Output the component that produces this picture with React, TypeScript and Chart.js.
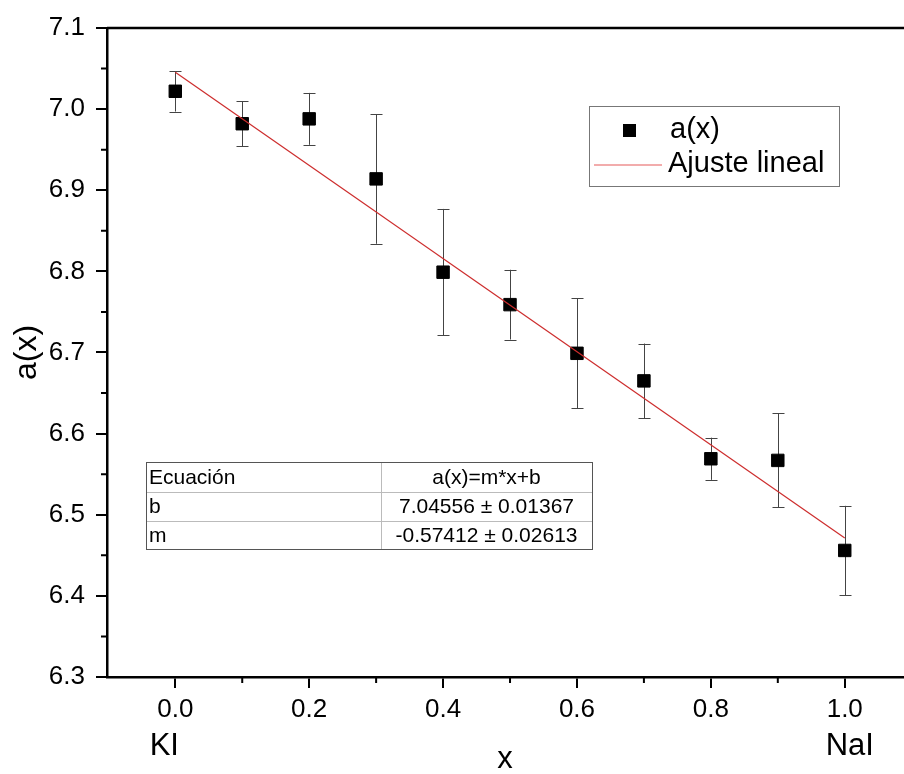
import React, { useEffect, useRef } from 'react';
import { Chart, registerables } from 'chart.js';

Chart.register(...registerables);

// ---- data ----
const xValues = [0, 0.1, 0.2, 0.3, 0.4, 0.5, 0.6, 0.7, 0.8, 0.9, 1.0];
const aValues = [7.022, 6.982, 6.988, 6.914, 6.799, 6.759, 6.699, 6.665, 6.569, 6.567, 6.456];
const aErrors = [0.025, 0.028, 0.032, 0.080, 0.078, 0.043, 0.068, 0.046, 0.026, 0.058, 0.055];
const fitIntercept = 7.04556;
const fitSlope = -0.57412;
const fitRange = [0, 1];
const xTicks = [0, 0.2, 0.4, 0.6, 0.8, 1.0];
const xMinorTicks = [0.1, 0.3, 0.5, 0.7, 0.9];
const yTicks = [6.3, 6.4, 6.5, 6.6, 6.7, 6.8, 6.9, 7.0, 7.1];
const yMinorTicks = [6.35, 6.45, 6.55, 6.65, 6.75, 6.85, 6.95, 7.05];
const xLimits = [-0.102, 1.0873];
const yLimits = [6.3, 7.1];
const seriesLabels = ['a(x)', 'Ajuste lineal'];
const endLabels = ['KI', 'NaI'];
const endLabelX = [0, 1];
const tableRows = [
  ['Ecuación', 'a(x)=m*x+b'],
  ['b', '7.04556 ± 0.01367'],
  ['m', '-0.57412 ± 0.02613'],
];
const axisTitles = ['x', 'a(x)'];

const FONT = '"Liberation Sans", Arial, sans-serif';
const FIT_COLOR = 'rgb(205, 45, 45)';
const CANVAS_W = 913;

const overlayPlugin = {
  id: 'overlay',
  beforeDatasetsDraw(chart: any) {
    const { ctx } = chart;
    const xs = chart.scales.x;
    const ys = chart.scales.y;
    ctx.save();
    ctx.strokeStyle = '#444';
    ctx.lineWidth = 1;
    for (let i = 0; i < xValues.length; i++) {
      const px = Math.round(xs.getPixelForValue(xValues[i])) + 0.5;
      const top = ys.getPixelForValue(aValues[i] + aErrors[i]);
      const bot = ys.getPixelForValue(aValues[i] - aErrors[i]);
      ctx.beginPath();
      ctx.moveTo(px, top);
      ctx.lineTo(px, bot);
      ctx.moveTo(px - 6, Math.round(top) + 0.5);
      ctx.lineTo(px + 6, Math.round(top) + 0.5);
      ctx.moveTo(px - 6, Math.round(bot) + 0.5);
      ctx.lineTo(px + 6, Math.round(bot) + 0.5);
      ctx.stroke();
    }
    ctx.restore();
  },
  afterDraw(chart: any) {
    const { ctx, chartArea } = chart;
    const xs = chart.scales.x;
    const ys = chart.scales.y;
    ctx.save();
    // top frame line
    ctx.strokeStyle = '#000';
    ctx.lineWidth = 2.5;
    ctx.beginPath();
    ctx.moveTo(chartArea.left, chartArea.top);
    ctx.lineTo(chartArea.right + 10, chartArea.top);
    ctx.stroke();
    // minor ticks
    ctx.lineWidth = 2;
    ctx.beginPath();
    for (const v of xMinorTicks) {
      const px = xs.getPixelForValue(v);
      ctx.moveTo(px, chartArea.bottom);
      ctx.lineTo(px, chartArea.bottom + 6);
    }
    for (const v of yMinorTicks) {
      const py = ys.getPixelForValue(v);
      ctx.moveTo(chartArea.left, py);
      ctx.lineTo(chartArea.left - 6, py);
    }
    ctx.stroke();

    // KI / NaI labels
    ctx.fillStyle = '#000';
    ctx.font = `31px ${FONT}`;
    ctx.textBaseline = 'middle';
    ctx.textAlign = 'center';
    ctx.fillText(endLabels[0], xs.getPixelForValue(endLabelX[0]) - 11, 746);
    ctx.fillText(endLabels[1], xs.getPixelForValue(endLabelX[1]) + 5, 746);

    // legend
    const lx = 589, ly = 106, lw = 250, lh = 80;
    ctx.strokeStyle = '#777';
    ctx.lineWidth = 1;
    ctx.strokeRect(lx + 0.5, ly + 0.5, lw, lh);
    ctx.fillStyle = '#000';
    ctx.fillRect(623, 124, 13, 13);
    ctx.strokeStyle = 'rgb(230, 90, 90)';
    ctx.lineWidth = 1.2;
    ctx.beginPath();
    ctx.moveTo(594, 165);
    ctx.lineTo(662, 165);
    ctx.stroke();
    ctx.fillStyle = '#000';
    ctx.font = `29px ${FONT}`;
    ctx.textAlign = 'left';
    ctx.textBaseline = 'middle';
    ctx.fillText(seriesLabels[0], 670, 130);
    ctx.fillText(seriesLabels[1], 668, 164);

    // parameter table
    const tx0 = 146, tx1 = 381, tx2 = 592;
    const rowsY = [462, 492, 521, 549];
    ctx.fillStyle = '#fff';
    ctx.fillRect(tx0, rowsY[0], tx2 - tx0, rowsY[3] - rowsY[0]);
    ctx.strokeStyle = '#bbb';
    ctx.lineWidth = 1;
    ctx.beginPath();
    ctx.moveTo(tx0, rowsY[1] + 0.5); ctx.lineTo(tx2, rowsY[1] + 0.5);
    ctx.moveTo(tx0, rowsY[2] + 0.5); ctx.lineTo(tx2, rowsY[2] + 0.5);
    ctx.moveTo(tx1 + 0.5, rowsY[0]); ctx.lineTo(tx1 + 0.5, rowsY[3]);
    ctx.stroke();
    ctx.strokeStyle = '#555';
    ctx.strokeRect(tx0 + 0.5, rowsY[0] + 0.5, tx2 - tx0, rowsY[3] - rowsY[0]);
    ctx.fillStyle = '#000';
    ctx.font = `21px ${FONT}`;
    for (let r = 0; r < tableRows.length; r++) {
      const cy = (rowsY[r] + rowsY[r + 1]) / 2 + 1;
      ctx.textAlign = 'left';
      ctx.fillText(tableRows[r][0], tx0 + 3, cy);
      ctx.textAlign = 'center';
      ctx.fillText(tableRows[r][1], (tx1 + tx2) / 2, cy);
    }
    ctx.restore();
  },
};

export default function App() {
  const canvasRef = useRef<HTMLCanvasElement | null>(null);

  useEffect(() => {
    if (!canvasRef.current) return;
    const points = xValues.map((x, i) => ({ x, y: aValues[i] }));
    const fitPoints = fitRange.map((x) => ({ x, y: fitIntercept + fitSlope * x }));
    const chart = new Chart(canvasRef.current, {
      type: 'scatter',
      data: {
        datasets: [
          {
            type: 'line',
            label: seriesLabels[1],
            data: fitPoints,
            borderColor: FIT_COLOR,
            borderWidth: 1.2,
            pointRadius: 0,
            fill: false,
            order: 0,
          } as any,
          {
            label: seriesLabels[0],
            data: points,
            pointStyle: 'rect',
            pointRadius: 8.8,
            pointBackgroundColor: '#000',
            pointBorderColor: '#000',
            pointBorderWidth: 1,
            order: 1,
          },
        ],
      },
      options: {
        responsive: false,
        animation: false,
        layout: { padding: { top: 28, left: 0, right: 0, bottom: 0 } },
        plugins: { legend: { display: false }, tooltip: { enabled: false } },
        scales: {
          x: {
            type: 'linear',
            position: 'bottom',
            min: xLimits[0],
            max: xLimits[1],
            afterBuildTicks: (s: any) => {
              s.ticks = xTicks.map((v) => ({ value: v }));
            },
            afterFit: (s: any) => {
              s.height = 97;
              s.paddingLeft = 0;
              s.paddingRight = 0;
            },
            ticks: {
              callback: (v: any) => Number(v).toFixed(1),
              font: { family: FONT, size: 26 },
              color: '#000',
              padding: 6,
              maxRotation: 0,
              autoSkip: false,
            },
            grid: {
              display: true,
              drawOnChartArea: false,
              drawTicks: true,
              tickLength: 11,
              color: '#000',
              lineWidth: 2,
            },
            border: { display: true, color: '#000', width: 2.5 },
            title: {
              display: true,
              text: axisTitles[0],
              font: { family: FONT, size: 31 },
              color: '#000',
              padding: { top: 0, bottom: -4 },
            },
          },
          y: {
            type: 'linear',
            min: yLimits[0],
            max: yLimits[1],
            afterBuildTicks: (s: any) => {
              s.ticks = yTicks.map((v) => ({ value: v }));
            },
            afterFit: (s: any) => {
              s.width = 107;
            },
            ticks: {
              callback: (v: any) => Number(v).toFixed(1),
              font: { family: FONT, size: 26 },
              color: '#000',
              padding: 11,
            },
            grid: {
              display: true,
              drawOnChartArea: false,
              drawTicks: true,
              tickLength: 11,
              color: '#000',
              lineWidth: 2,
            },
            border: { display: true, color: '#000', width: 2.5 },
            title: {
              display: true,
              text: axisTitles[1],
              font: { family: FONT, size: 32 },
              color: '#000',
              padding: { top: 8, bottom: 0 },
            },
          },
        },
      },
      plugins: [overlayPlugin],
    });
    return () => chart.destroy();
  }, []);

  return (
    <div style={{ position: 'absolute', left: 0, top: 0, width: 904, height: 774, overflow: 'hidden', background: '#fff' }}>
      <canvas ref={canvasRef} width={CANVAS_W} height={774} style={{ display: 'block' }} />
    </div>
  );
}
